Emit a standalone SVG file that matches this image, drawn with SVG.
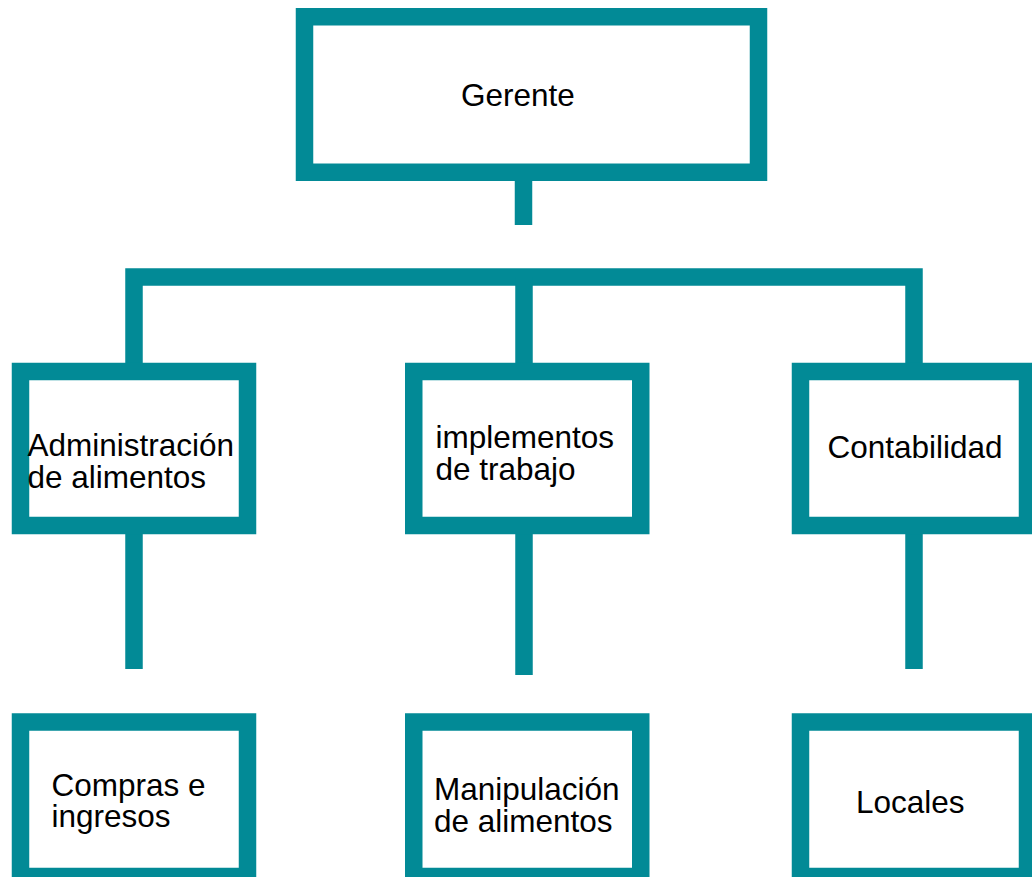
<svg xmlns="http://www.w3.org/2000/svg" width="1032" height="877" viewBox="0 0 1032 877">
<style>
.box{fill:#ffffff;stroke:#028a96;stroke-width:17.5}
.con{fill:none;stroke:#028a96;stroke-width:17.5;stroke-linejoin:miter;stroke-linecap:butt}
text{font-family:"Liberation Sans",Arial,sans-serif;font-size:31.5px;fill:#000000}
</style>
<rect width="1032" height="877" fill="#ffffff"/>
<g id="connectors">
<path class="con" d="M523.5,181 V225"/>
<path class="con" d="M134,363 V277 H914 V363"/>
<path class="con" d="M524,277 V363"/>
<path class="con" d="M134,534 V669"/>
<path class="con" d="M524,534 V675"/>
<path class="con" d="M914,534 V669"/>
</g>
<g id="gerente">
<rect class="box" x="304.5" y="16.75" width="454" height="155.5"/>
<text x="461" y="106">Gerente</text>
</g>
<g id="administracion">
<rect class="box" x="20.5" y="371.5" width="227" height="154"/>
<text x="27.5" y="455.5">Administración</text>
<text x="27.5" y="488">de alimentos</text>
</g>
<g id="implementos">
<rect class="box" x="413.75" y="371.5" width="227" height="154"/>
<text x="435.5" y="448">implementos</text>
<text x="435.5" y="480">de trabajo</text>
</g>
<g id="contabilidad">
<rect class="box" x="800.5" y="371.5" width="227" height="154"/>
<text x="827.5" y="458">Contabilidad</text>
</g>
<g id="compras">
<rect class="box" x="20.5" y="722" width="227" height="154.5"/>
<text x="51.5" y="795.5">Compras e</text>
<text x="51.5" y="827">ingresos</text>
</g>
<g id="manipulacion">
<rect class="box" x="413.75" y="722" width="227" height="154.5"/>
<text x="434" y="800">Manipulación</text>
<text x="434" y="832">de alimentos</text>
</g>
<g id="locales">
<rect class="box" x="800.5" y="722" width="227" height="154.5"/>
<text x="856" y="813">Locales</text>
</g>
</svg>
